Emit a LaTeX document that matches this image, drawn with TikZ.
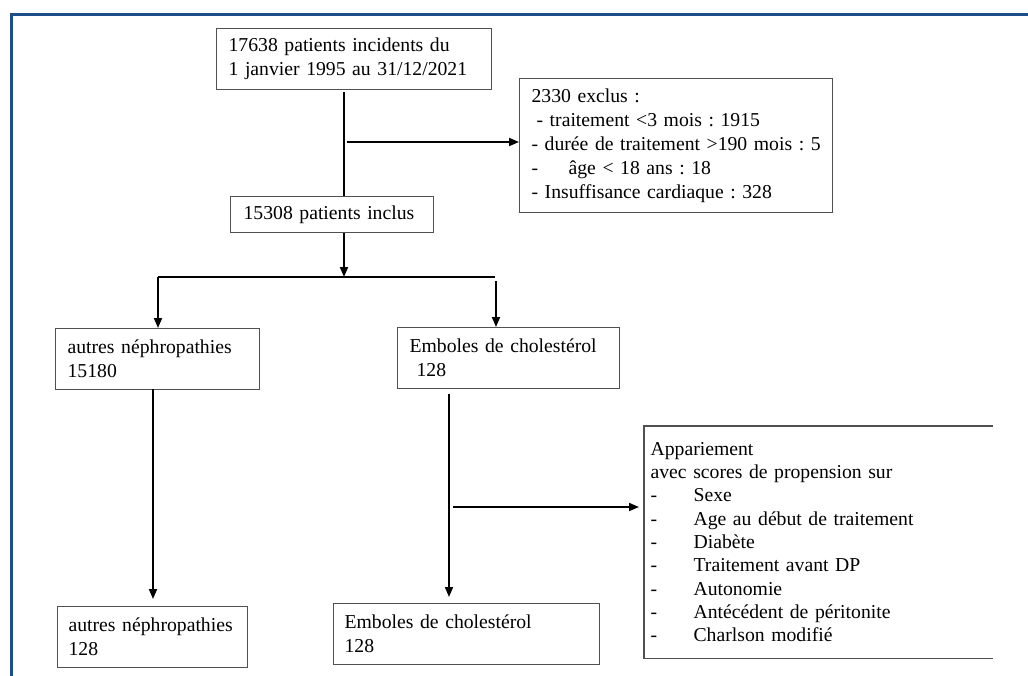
\documentclass[tikz,border=0pt]{standalone}
\usepackage{fontspec}
\setmainfont{Liberation Serif}
\usetikzlibrary{arrows.meta}
\definecolor{frameblue}{RGB}{30,78,138}
\definecolor{boxgray}{RGB}{80,80,80}
\frenchspacing
\begin{document}
\begin{tikzpicture}[x=1pt,y=-1pt,
  every node/.style={font=\fontsize{19.7}{24}\selectfont\frenchspacing},
  box/.style={draw=boxgray,line width=1.2pt,rectangle,anchor=north west,
    inner xsep=12pt,inner ysep=0pt,align=left},
  conn/.style={line width=1.8pt,black},
  arr/.style={conn,-{Triangle[length=10pt,width=8pt]}},
  frame/.style={draw=frameblue,line width=3pt}]
\useasboundingbox (0,0) rectangle (1028,675);
\path[frame] (11,676) -- (11,14) -- (1029,14);

\node[box,text width=251pt,minimum height=61pt] (b1) at (216,28)
  {17638 patients incidents du\\1 janvier 1995 au 31/12/2021};
\node[box,text width=313pt-24pt,minimum height=134pt] (excl) at (519,78)
  {2330 exclus :\\
   \hspace*{5pt}- traitement <3 mois : 1915\\
   \mbox{- durée de traitement >190 mois : 5}\\
   \makebox[37pt][l]{-}âge < 18 ans : 18\\
   - Insuffisance cardiaque : 328};
\node[box,inner xsep=13pt,text width=203pt-26pt,minimum height=36pt] (b2) at (230,196)
  {15308 patients inclus};
\node[box,text width=204pt-24pt,minimum height=61pt] (b3) at (55,328)
  {autres néphropathies\\15180};
\node[box,text width=222pt-24pt,minimum height=61pt] (b4) at (397,327)
  {Emboles de cholestérol\\\hspace*{7pt}128};
\node[box,inner xsep=11pt,text width=190pt-22pt,minimum height=61pt] (b5) at (57,606)
  {autres néphropathies\\128};
\node[box,inner xsep=11pt,text width=266pt-22pt,minimum height=61pt] (b6) at (333,603)
  {Emboles de cholestérol\\128};
\node[box,draw=none,inner xsep=6pt,text width=348pt-12pt,minimum height=231pt,
  font=\fontsize{19.7}{23.3}\selectfont] (m) at (644,426)
  {Appariement\\
   avec scores de propension sur\\
   \makebox[43pt][l]{-}Sexe\\
   \makebox[43pt][l]{-}Age au début de traitement\\
   \makebox[43pt][l]{-}Diabète\\
   \makebox[43pt][l]{-}Traitement avant DP\\
   \makebox[43pt][l]{-}Autonomie\\
   \makebox[43pt][l]{-}Antécédent de péritonite\\
   \makebox[43pt][l]{-}Charlson modifié};
\draw[draw=boxgray,line width=1.2pt] (m.north east) -- (m.north west) -- (m.south west) -- (m.south east);

% connectors
\coordinate (t1) at (344,92);
\coordinate (e0) at (347,142);
\coordinate (sl) at (158,277);
\coordinate (sr) at (495,277);
\coordinate (r0) at (496,281);
\coordinate (l0) at (153,389);
\coordinate (l1) at (153,599);
\coordinate (c0) at (449,394);
\coordinate (c1) at (449,597);
\coordinate (h0) at (453,507);
\coordinate (h1) at (639,507);

\draw[conn] (t1) -- (t1 |- b2.north);
\draw[arr] (e0) -- (e0 -| excl.west);
\draw[arr] (b2.south -| t1) -- (t1 |- sl);
\draw[conn] (sl) -- (sr);
\draw[arr] (sl) -- (sl |- b3.north);
\draw[arr] (r0) -- (r0 |- b4.north);
\draw[arr] (l0) -- (l1);
\draw[arr] (c0) -- (c1);
\draw[arr] (h0) -- (h1);
\end{tikzpicture}
\end{document}
